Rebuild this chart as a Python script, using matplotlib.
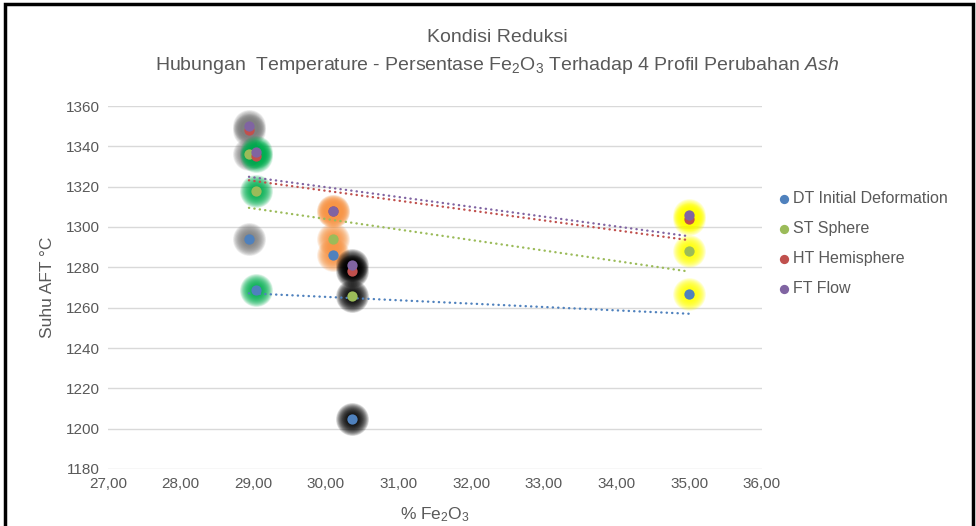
import numpy as np
import matplotlib
matplotlib.use('Agg')
from matplotlib import pyplot as plt
from matplotlib.patches import Rectangle

plt.rcParams['font.family'] = ['Liberation Sans', 'DejaVu Sans']
plt.rcParams['mathtext.fontset'] = 'custom'
plt.rcParams['mathtext.rm'] = 'Liberation Sans'
plt.rcParams['mathtext.it'] = 'Liberation Sans:italic'

# data
fe2o3 = [28.94, 29.04, 30.09, 30.36, 35.00]
dt = [1294, 1269, 1286, 1205, 1267]
st = [1336, 1318, 1294, 1266, 1288]
ht = [1348, 1335, 1308, 1278, 1304]
ft = [1350, 1337, 1308, 1281, 1306]
series_names = ['DT Initial Deformation', 'ST Sphere', 'HT Hemisphere', 'FT Flow']
series_colors = ['#4F81BD', '#9BBB59', '#C0504D', '#8064A2']
glow_colors = ['#7F7F7F', '#00B050', '#F79646', '#000000', '#FFFF00']
x_ticks = [27, 28, 29, 30, 31, 32, 33, 34, 35, 36]
x_labels = ['27,00', '28,00', '29,00', '30,00', '31,00', '32,00', '33,00', '34,00', '35,00', '36,00']
y_ticks = [1180, 1200, 1220, 1240, 1260, 1280, 1300, 1320, 1340, 1360]

txt = '#595959'
fig = plt.figure(figsize=(9.76, 5.26), dpi=100)
ax = fig.add_axes([108/976, 1-469/526, 654/976, 363/526])

series = [dt, st, ht, ft]
x = np.array(fe2o3)

# glow (halo) di belakang titik
n_layer = 22
for s in series:
    for xi, yi, gc in zip(fe2o3, s, glow_colors):
        for k in range(n_layer):
            d = 10 + k * 23 / (n_layer - 1)
            ax.scatter([xi], [yi], s=(d * 0.72) ** 2, color=gc, alpha=0.1,
                       lw=0, zorder=2, antialiased=True)

# trendline linear
for s, c in zip(series, series_colors):
    m, b = np.polyfit(x, np.array(s), 1)
    xx = np.array([x.min(), x.max()])
    ax.plot(xx, m * xx + b, color=c, lw=1.7, linestyle=(0, (0.1, 2.2)),
            dash_capstyle='round', zorder=3)

for s, c, n in zip(series, series_colors, series_names):
    ax.scatter(fe2o3, s, s=55, color=c, lw=0, zorder=4, label=n)

ax.set_xlim(27, 36)
ax.set_ylim(1180, 1360)
ax.set_xticks(x_ticks)
ax.set_xticklabels(x_labels)
ax.set_yticks(y_ticks)
ax.grid(axis='y', color='#D9D9D9', lw=1)
ax.set_axisbelow(True)
for sp in ax.spines.values():
    sp.set_visible(False)
ax.tick_params(length=0, colors=txt, labelsize=11, pad=6)

ax.set_xlabel('% Fe$_2$O$_3$', color=txt, fontsize=12.5, labelpad=10)
ax.set_ylabel('Suhu AFT °C', color=txt, fontsize=12.5, labelpad=8)

fig.text(497/976, 1-37/526, 'Kondisi Reduksi', ha='center', va='center',
         color=txt, fontsize=14)
fig.text(497/976, 1-65/526,
         r'Hubungan  Temperature - Persentase Fe$_2$O$_3$ Terhadap 4 Profil Perubahan $\mathit{Ash}$',
         ha='center', va='center', color=txt, fontsize=14)

leg = ax.legend(loc='center left', bbox_to_anchor=(779/976, 1-243.5/526),
                bbox_transform=fig.transFigure, frameon=False, fontsize=11.5,
                handlelength=0.6, handletextpad=0.3, labelspacing=0.95,
                borderpad=0, borderaxespad=0, markerscale=0.9)
for t in leg.get_texts():
    t.set_color(txt)

fig.patches.append(Rectangle((0.005, -0.05), 0.992, 1.042, transform=fig.transFigure,
                             fill=False, edgecolor='black', lw=2.5))

fig.savefig('out.png', dpi=100)
